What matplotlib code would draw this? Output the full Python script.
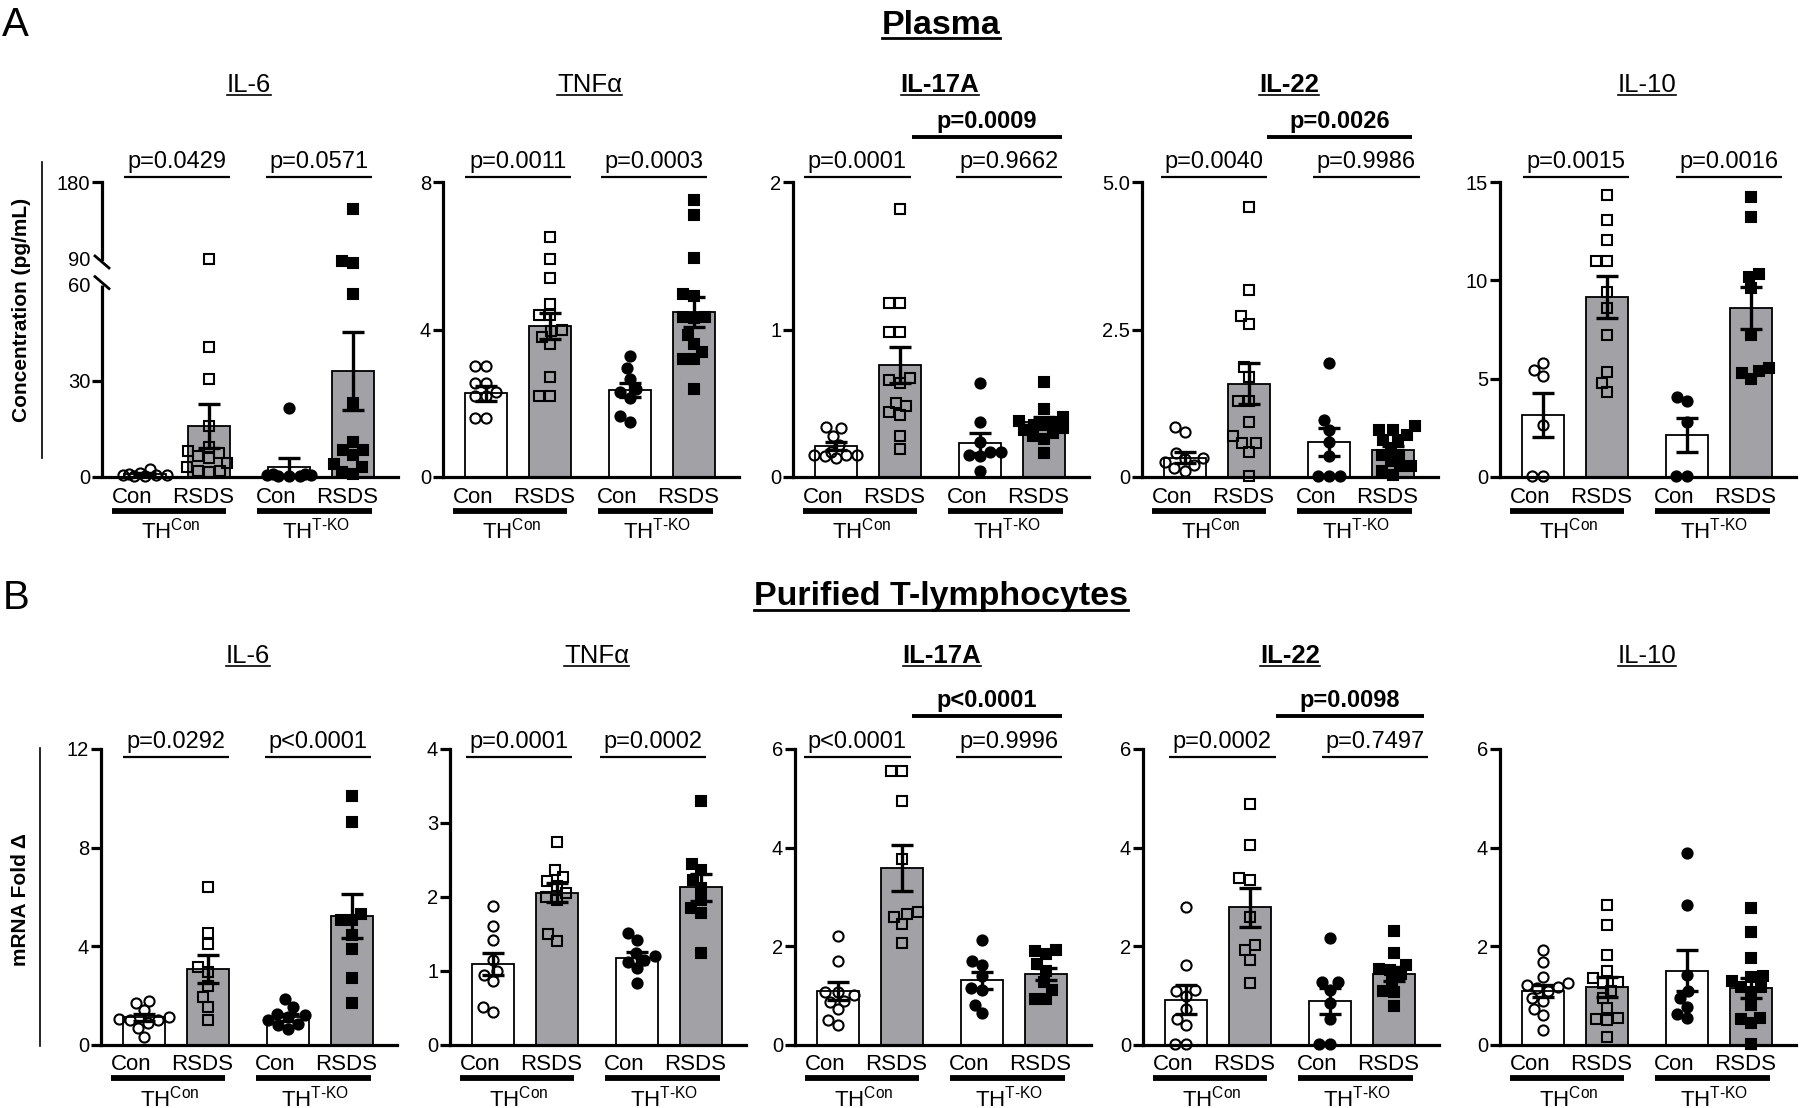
import numpy as np
import matplotlib
matplotlib.use('Agg')
import matplotlib.pyplot as plt
from matplotlib.lines import Line2D
from matplotlib.transforms import blended_transform_factory as blend, IdentityTransform

plt.rcParams['font.family'] = ['Liberation Sans', 'DejaVu Sans']
plt.rcParams['mathtext.fontset'] = 'custom'
plt.rcParams['mathtext.rm'] = 'Liberation Sans'
plt.rcParams['mathtext.it'] = 'Liberation Sans:italic'
plt.rcParams['mathtext.bf'] = 'Liberation Sans:bold'

# ---------------- data ----------------
CATS = ['Con', 'RSDS', 'Con', 'RSDS']
GENO = [r'TH$^{\text{Con}}$', r'TH$^{\text{T-KO}}$']
CYTOKINES = ['IL-6', 'TNFα', 'IL-17A', 'IL-22', 'IL-10']
TITLE_BOLD = [False, False, True, True, False]

# Panel A: plasma concentration (pg/mL); groups: Con/THCon, RSDS/THCon, Con/THT-KO, RSDS/THT-KO
A_IL6_pts = [[2.5, 1.2, 0.8, 0.5, 0.6, 0.4, 0.7, 0.3],
             [90, 40.5, 30.5, 16, 9.5, 8, 7.5, 6.5, 6, 4.5, 3, 2, 2, 1.5],
             [21.5, 1.0, 0.5, 0.3, 0.2, 0.8, 0.3, 0.5],
             [148, 88, 85, 57, 23, 11, 8.5, 8.5, 7, 4, 3, 1.5, 1]]
A_IL6_mean = [0.9, 16, 3.0, 33]
A_IL6_sem = [0.3, 6.8, 2.8, 12.2]

A_TNF_pts = [[3.0, 3.0, 2.55, 2.55, 2.3, 2.2, 2.2, 1.6, 1.6],
             [6.5, 5.9, 5.4, 4.7, 4.4, 4.4, 4.0, 3.95, 3.8, 3.6, 2.7, 2.2, 2.2],
             [3.27, 2.95, 2.66, 2.4, 2.3, 2.15, 1.5, 1.65],
             [7.5, 7.1, 5.95, 4.95, 4.9, 4.35, 4.35, 4.3, 3.85, 3.6, 3.4, 3.2, 3.2, 2.4]]
A_TNF_mean = [2.27, 4.1, 2.36, 4.47]
A_TNF_sem = [0.2, 0.36, 0.2, 0.4]

A_IL17_pts = [[0.33, 0.34, 0.28, 0.22, 0.15, 0.15, 0.14, 0.13, 0.15, 0.17],
              [1.82, 1.18, 1.18, 0.98, 0.98, 0.67, 0.66, 0.64, 0.5, 0.48, 0.44, 0.42, 0.28, 0.19],
              [0.64, 0.37, 0.24, 0.17, 0.17, 0.15, 0.14, 0.04],
              [0.645, 0.46, 0.41, 0.38, 0.37, 0.35, 0.35, 0.33, 0.32, 0.3, 0.28, 0.26, 0.16]]
A_IL17_mean = [0.21, 0.76, 0.23, 0.37]
A_IL17_sem = [0.03, 0.12, 0.07, 0.035]

A_IL22_pts = [[0.85, 0.77, 0.4, 0.32, 0.3, 0.25, 0.2, 0.15, 0.1],
              [4.58, 3.17, 2.73, 2.6, 1.87, 1.7, 1.28, 1.28, 0.94, 0.69, 0.57, 0.57, 0.43, 0.01],
              [1.94, 0.97, 0.8, 0.6, 0.35, 0.02, 0.02, 0.02],
              [0.86, 0.8, 0.8, 0.72, 0.63, 0.63, 0.49, 0.38, 0.38, 0.27, 0.18, 0.18, 0.1, 0.04]]
A_IL22_mean = [0.33, 1.58, 0.59, 0.45]
A_IL22_sem = [0.1, 0.35, 0.24, 0.07]

A_IL10_pts = [[5.8, 5.45, 5.15, 2.65, 0.05, 0.05],
              [14.35, 13.05, 12.05, 11.0, 11.0, 9.4, 8.6, 7.2, 5.35, 4.8, 4.3],
              [4.05, 3.85, 2.8, 0.05, 0.05],
              [14.25, 13.2, 10.3, 10.15, 9.6, 7.2, 5.55, 5.4, 5.3, 5.0]]
A_IL10_mean = [3.15, 9.15, 2.13, 8.6]
A_IL10_sem = [1.1, 1.05, 0.85, 1.07]

# Panel B: purified T-lymphocytes, mRNA fold change
B_IL6_pts = [[1.8, 1.7, 1.4, 1.15, 1.05, 1.0, 1.0, 0.88, 0.7, 0.33],
             [6.4, 4.55, 4.1, 3.15, 2.95, 2.4, 1.95, 1.55, 1.0],
             [1.85, 1.55, 1.25, 1.2, 1.15, 1.0, 0.85, 0.8, 0.65],
             [10.1, 9.05, 5.3, 5.05, 5.05, 4.45, 3.9, 2.7, 1.7]]
B_IL6_mean = [1.12, 3.08, 1.12, 5.22]
B_IL6_sem = [0.14, 0.58, 0.13, 0.9]

B_TNF_pts = [[1.88, 1.61, 1.42, 1.15, 1.0, 0.95, 0.86, 0.52, 0.45],
             [2.74, 2.36, 2.27, 2.22, 2.15, 2.05, 2.0, 1.96, 1.5, 1.41],
             [1.51, 1.42, 1.24, 1.2, 1.15, 1.12, 1.04, 0.84],
             [3.3, 2.45, 2.36, 2.23, 2.12, 1.96, 1.85, 1.78, 1.24]]
B_TNF_mean = [1.1, 2.06, 1.18, 2.13]
B_TNF_sem = [0.15, 0.13, 0.08, 0.18]

B_IL17_pts = [[2.2, 1.7, 1.08, 1.08, 1.02, 0.9, 0.88, 0.72, 0.51, 0.41],
              [5.56, 5.56, 4.95, 3.77, 2.69, 2.65, 2.6, 2.45, 2.06],
              [2.13, 1.7, 1.62, 1.39, 1.15, 1.12, 0.81, 0.64],
              [1.93, 1.9, 1.85, 1.64, 1.5, 1.28, 1.12, 0.93, 0.93]]
B_IL17_mean = [1.1, 3.59, 1.31, 1.44]
B_IL17_sem = [0.18, 0.47, 0.17, 0.12]

B_IL22_pts = [[2.8, 1.62, 1.12, 1.1, 0.99, 0.73, 0.53, 0.4, 0.03, 0.03],
              [4.88, 4.06, 3.38, 3.34, 2.6, 2.03, 1.93, 1.73, 1.26],
              [2.17, 1.28, 1.28, 1.12, 0.85, 0.53, 0.03, 0.03],
              [2.32, 1.86, 1.63, 1.55, 1.52, 1.43, 1.3, 1.1, 1.08, 0.79]]
B_IL22_mean = [0.92, 2.79, 0.89, 1.44]
B_IL22_sem = [0.3, 0.4, 0.26, 0.15]

B_IL10_pts = [[1.92, 1.69, 1.38, 1.25, 1.22, 1.18, 1.15, 1.1, 0.95, 0.9, 0.72, 0.6, 0.3],
              [2.83, 2.43, 1.82, 1.5, 1.35, 1.28, 1.25, 1.1, 0.95, 0.74, 0.55, 0.52, 0.5, 0.17],
              [3.9, 2.83, 1.42, 1.09, 0.95, 0.78, 0.62, 0.54],
              [2.78, 2.3, 1.77, 1.4, 1.38, 1.3, 1.18, 1.18, 1.08, 0.81, 0.55, 0.52, 0.44, 0.03]]
B_IL10_mean = [1.09, 1.17, 1.51, 1.16]
B_IL10_sem = [0.12, 0.2, 0.42, 0.2]

A_TICKS = [[0, 30, 60, 90, 180], [0, 4, 8], [0, 1, 2], [0, 2.5, 5.0], [0, 5, 10, 15]]
A_TICKLABELS = [['0', '30', '60', '90', '180'], ['0', '4', '8'], ['0', '1', '2'],
                ['0', '2.5', '5.0'], ['0', '5', '10', '15']]
B_TICKS = [[0, 4, 8, 12], [0, 1, 2, 3, 4], [0, 2, 4, 6], [0, 2, 4, 6], [0, 2, 4, 6]]
B_TICKLABELS = [[str(t) for t in tk] for tk in B_TICKS]

A_PVALS = [['p=0.0429', 'p=0.0571'], ['p=0.0011', 'p=0.0003'],
           ['p=0.0001', 'p=0.9662', 'p=0.0009'], ['p=0.0040', 'p=0.9986', 'p=0.0026'],
           ['p=0.0015', 'p=0.0016']]
B_PVALS = [['p=0.0292', 'p<0.0001'], ['p=0.0001', 'p=0.0002'],
           ['p<0.0001', 'p=0.9996', 'p<0.0001'], ['p=0.0002', 'p=0.7497', 'p=0.0098'],
           []]

# ---------------- layout ----------------
A_SPANS = [[(-0.33, 1.33), (1.9, 3.55)], [(-0.33, 1.33), (1.8, 3.45)],
           [(-0.5, 1.17), (1.88, 3.53), (1.19, 3.53)], [(-0.38, 1.28), (2.0, 3.67), (1.28, 3.55)],
           [(-0.31, 1.34), (2.08, 3.73)]]
B_SPANS = [[(-0.33, 1.33), (1.89, 3.55)], [(-0.42, 1.23), (1.67, 3.33)],
           [(-0.53, 1.14), (1.84, 3.5), (1.16, 3.5)], [(-0.27, 1.41), (2.13, 3.78), (1.41, 3.72)],
           []]

W, H, DPI = 1800, 1108, 100
POS = [0, 1, 2.25, 3.25]
XLIM = (-0.67, 3.95)
UNIT = 64.0
AX_W = (XLIM[1] - XLIM[0]) * UNIT
BAR_W = 0.66
SP = 2.3
GRAY = '#a2a2a6'
BAR_COLORS = ['white', GRAY, 'white', GRAY]
MARKERS = ['o', 's', 'o', 's']
MFC = ['none', 'none', 'black', 'black']
MS = [7.3, 6.9, 7.3, 6.9]
SWARM_D = 11.0
SWARM_MAXW = 25.0
ROWS = {
    'A': dict(top=182, bottom=477, title=92, plow=177, ptop=137, cat=503, gline=511, geno=539,
              left=[102, 443, 793, 1142, 1500]),
    'B': dict(top=749, bottom=1045, title=663, plow=757, ptop=716, cat=1070, gline=1078, geno=1106,
              left=[101, 450, 795, 1143, 1500]),
}
BRK_LO, BRK_HI, BRK_RATIO = 60, 90, 0.2667

fig = plt.figure(figsize=(W / DPI, H / DPI), dpi=DPI)


def fy(py):
    return 1 - py / H


def fx(px):
    return px / W


def brk_fwd(v):
    v = np.asarray(v, float)
    return np.where(v <= BRK_LO, v, BRK_LO + (v - BRK_LO) * BRK_RATIO)


def brk_inv(u):
    u = np.asarray(u, float)
    return np.where(u <= BRK_LO, u, BRK_LO + (u - BRK_LO) / BRK_RATIO)


def swarm(ax, xc, ys, d, maxw):
    """Deterministic beeswarm in pixel space, bounded to +/- maxw pixels."""
    pts = ax.transData.transform(np.column_stack([np.full(len(ys), xc), ys]))
    ypx = pts[:, 1]
    x0 = pts[0, 0]
    order = np.argsort(ypx, kind='stable')
    placed = []
    xs = np.empty(len(ys))
    grid = np.linspace(-maxw, maxw, 41)
    for i in order:
        y = ypx[i]
        cands = [0.0]
        for (px, py) in placed:
            dy = y - py
            if abs(dy) < d:
                dx = np.sqrt(d * d - dy * dy)
                cands += [px + dx, px - dx]
        cands = [c for c in cands if abs(c) <= maxw + 1e-6]
        cands = sorted(cands, key=lambda c: (round(abs(c), 6), c))
        chosen = None
        for c in cands:
            if all((c - px) ** 2 + (y - py) ** 2 >= d * d - 1e-6 for px, py in placed):
                chosen = c
                break
        if chosen is None:
            best = -1
            for c in sorted(grid, key=lambda c: (abs(c), c)):
                md = min((c - px) ** 2 + (y - py) ** 2 for px, py in placed)
                if md > best + 1e-6:
                    best, chosen = md, c
        placed.append((chosen, y))
        xs[i] = x0 + chosen
    back = ax.transData.inverted().transform(np.column_stack([xs, ypx]))
    return back[:, 0]


underlines = []  # (text, baseline_px, offset, lw)


def panel(row, idx, pts, mean, sem, ticks, ticklabels, pvals, spans, broken=False):
    r = ROWS[row]
    left = r['left'][idx]
    ax = fig.add_axes([fx(left), fy(r['bottom']), AX_W / W, (r['bottom'] - r['top']) / H])
    if broken:
        ax.set_yscale('function', functions=(brk_fwd, brk_inv))
    ax.set_xlim(*XLIM)
    ax.set_ylim(ticks[0], ticks[-1])
    ax.set_autoscale_on(False)
    ax.patch.set_alpha(0)
    for s in ['top', 'right']:
        ax.spines[s].set_visible(False)
    for s in ['left', 'bottom']:
        ax.spines[s].set_linewidth(SP)
    ax.set_xticks([])
    ax.set_yticks(ticks)
    ax.set_yticklabels(ticklabels)
    ax.tick_params(axis='y', length=7, width=SP, labelsize=14.5, pad=1.5, direction='out')

    ax.bar(POS, mean, width=BAR_W, color=BAR_COLORS, edgecolor='black', linewidth=1.3, zorder=2)
    for g in range(4):
        xs = swarm(ax, POS[g], pts[g], SWARM_D, SWARM_MAXW)
        ax.plot(xs, pts[g], ls='none', marker=MARKERS[g], ms=MS[g], mfc=MFC[g], mec='black',
                mew=1.5, zorder=3, clip_on=False)
    ax.errorbar(POS, mean, yerr=sem, fmt='none', ecolor='black', elinewidth=2.4, capsize=8,
                capthick=2.4, zorder=4)

    if broken:
        ax.spines['left'].set_visible(False)
        tr = blend(ax.transAxes, ax.transData)
        ax.plot([0, 0], [0, BRK_LO], color='black', lw=SP, transform=tr, clip_on=False,
                solid_capstyle='butt', zorder=5)
        ax.plot([0, 0], [BRK_HI, ticks[-1]], color='black', lw=SP, transform=tr, clip_on=False,
                solid_capstyle='projecting', zorder=5)
        for v, off in [(BRK_LO, 2), (BRK_HI, -3)]:
            px, py = ax.transData.transform((XLIM[0], v))
            py += off
            fig.add_artist(Line2D([px - 7, px + 7], [py + 6, py - 6], color='black', lw=2.0,
                                  transform=IdentityTransform()))
        mt = ax.yaxis.get_major_ticks()
        for k, t in enumerate(ticks):
            if t in (BRK_LO, BRK_HI):
                mt[k].tick1line.set_visible(False)

    tb = blend(ax.transData, fig.transFigure)
    # title
    t = ax.text(1.625, fy(r['title']), CYTOKINES[idx], transform=tb, ha='center', va='baseline',
                fontsize=18.5, fontweight='bold' if TITLE_BOLD[idx] else 'normal')
    underlines.append((t, r['title'], 3, 1.2))
    # categories
    for g in range(4):
        ax.text(POS[g] + (-0.2 if g % 2 == 0 else -0.09), fy(r['cat']), CATS[g], transform=tb,
                ha='center', va='baseline', fontsize=16)
    for (x1, x2), xc, lab in zip([(-0.52, 1.27), (1.75, 3.55)], [0.4, 2.68], GENO):
        ax.plot([x1, x2], [fy(r['gline'])] * 2, transform=tb, color='black', lw=4.2,
                solid_capstyle='butt', clip_on=False)
        ax.text(xc, fy(r['geno']), lab, transform=tb, ha='center', va='baseline', fontsize=16)
    # p-values
    for k, (txt, (x1, x2)) in enumerate(zip(pvals, spans)):
        top = (k == 2)
        yl = r['ptop'] if top else r['plow']
        ax.plot([x1, x2], [fy(yl)] * 2, transform=tb, color='black', lw=2.8 if top else 1.6,
                solid_capstyle='butt', clip_on=False)
        ax.text((x1 + x2) / 2, fy(yl - 4), txt, transform=tb, ha='center', va='bottom',
                fontsize=17, fontweight='bold' if top else 'normal')
    return ax


A_PTS = [A_IL6_pts, A_TNF_pts, A_IL17_pts, A_IL22_pts, A_IL10_pts]
A_MEAN = [A_IL6_mean, A_TNF_mean, A_IL17_mean, A_IL22_mean, A_IL10_mean]
A_SEM = [A_IL6_sem, A_TNF_sem, A_IL17_sem, A_IL22_sem, A_IL10_sem]
B_PTS = [B_IL6_pts, B_TNF_pts, B_IL17_pts, B_IL22_pts, B_IL10_pts]
B_MEAN = [B_IL6_mean, B_TNF_mean, B_IL17_mean, B_IL22_mean, B_IL10_mean]
B_SEM = [B_IL6_sem, B_TNF_sem, B_IL17_sem, B_IL22_sem, B_IL10_sem]

for i in range(5):
    panel('A', i, A_PTS[i], A_MEAN[i], A_SEM[i], A_TICKS[i], A_TICKLABELS[i], A_PVALS[i],
          A_SPANS[i], broken=(i == 0))
    panel('B', i, B_PTS[i], B_MEAN[i], B_SEM[i], B_TICKS[i], B_TICKLABELS[i], B_PVALS[i],
          B_SPANS[i])

# panel letters and section headers
fig.text(fx(2), fy(36), 'A', fontsize=29, ha='left', va='baseline')
fig.text(fx(3), fy(609), 'B', fontsize=29, ha='left', va='baseline')
t1 = fig.text(fx(941), fy(34), 'Plasma', fontsize=24.5, fontweight='bold', ha='center', va='baseline')
t2 = fig.text(fx(941), fy(605), 'Purified T-lymphocytes', fontsize=24.5, fontweight='bold',
              ha='center', va='baseline')
underlines.append((t1, 34, 4, 2.0))
underlines.append((t2, 605, 5, 2.0))

# y-axis labels with side rules
fig.text(fx(22), fy(310), 'Concentration (pg/mL)', rotation=90, ha='center', va='center',
         fontsize=15, fontweight='bold')
fig.add_artist(Line2D([fx(42), fx(42)], [fy(162), fy(458)], color='black', lw=1.2,
                      transform=fig.transFigure))
fig.text(fx(21), fy(900), 'mRNA Fold Δ', rotation=90, ha='center', va='center',
         fontsize=15, fontweight='bold')
fig.add_artist(Line2D([fx(40), fx(40)], [fy(748), fy(1046)], color='black', lw=1.2,
                      transform=fig.transFigure))

# underline titles
fig.canvas.draw()
renderer = fig.canvas.get_renderer()
for t, base, off, lw in underlines:
    bb = t.get_window_extent(renderer)
    y = fy(base + off)
    fig.add_artist(Line2D([bb.x0 / W, bb.x1 / W], [y, y], color='black', lw=lw,
                          transform=fig.transFigure))

fig.savefig('out.png', dpi=DPI)
